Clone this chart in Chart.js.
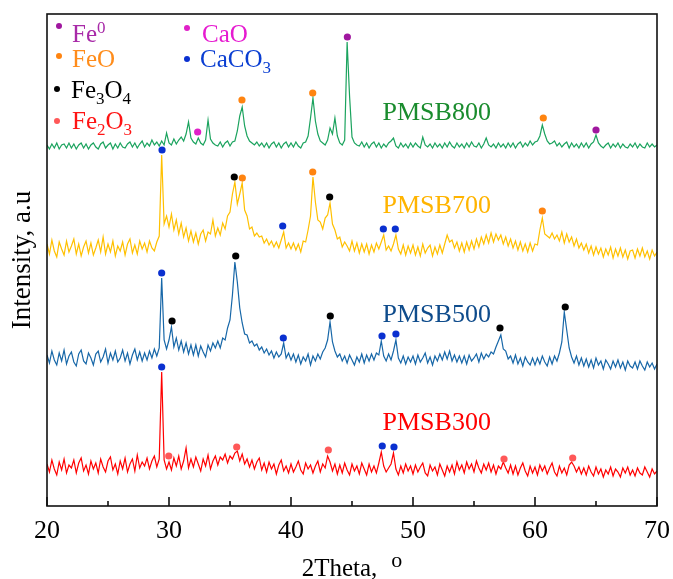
<!DOCTYPE html>
<html>
<head>
<meta charset="utf-8">
<script src="https://cdn.jsdelivr.net/npm/chart.js@4.4.1/dist/chart.umd.min.js"></script>
<style>
  html, body { margin: 0; padding: 0; background: #fff; }
  canvas { display: block; }
</style>
</head>
<body>
<canvas id="xrd" width="673" height="579"></canvas>
<script>
// 2θ grid: 20.0 .. 70.0 every 0.2°
const thetaStart = 20;
const thetaStep = 0.2;
const xTicks = [20, 30, 40, 50, 60, 70];
const xMinorTicks = [25, 35, 45, 55, 65];

const samples = ["PMSB300", "PMSB500", "PMSB700", "PMSB800"];
const offsets = [28, 136, 246, 350];   // vertical stacking of the patterns

// intensities (a.u.), one value per grid step
const pmsb300 = [
  14, 6, 18, 9, 3, 16, 8, 19, 5, 13,
  10, 18, 5, 15, 20, 7, 13, 4, 17, 9,
  15, 5, 19, 11, 6, 17, 21, 8, 14, 4,
  17, 9, 20, 6, 14, 19, 7, 23, 10, 16,
  12, 20, 9, 17, 22, 11, 19, 106, 18, 9,
  16, 8, 20, 12, 22, 9, 17, 30, 10, 19,
  11, 21, 14, 7, 19, 12, 23, 9, 17, 22,
  13, 21, 18, 24, 15, 22, 19, 25, 27, 17,
  24, 14, 19, 11, 18, 9, 16, 20, 8, 15,
  6, 16, 9, 14, 4, 13, 18, 7, 12, 5,
  14, 6, 11, 17, 8, 4, 15, 9, 13, 5,
  12, 17, 6, 14, 10, 22, 16, 7, 14, 4,
  13, 5, 15, 8, 3, 14, 7, 12, 4, 15,
  9, 3, 14, 6, 12, 5, 15, 26, 12, 6,
  10, 14, 25, 9, 3, 12, 5, 14, 7, 12,
  4, 13, 6, 11, 15, 5, 2, 13, 7, 11,
  3, 14, 8, 2, 12, 6, 13, 4, 16, 8,
  13, 5, 16, 9, 14, 6, 17, 10, 5, 14,
  8, 15, 6, 13, 4, 12, 9, 16, 10, 5,
  13, 4, 12, 3, 10, 15, 7, 2, 12, 5,
  11, 3, 13, 7, 12, 4, 10, 15, 6, 2,
  12, 5, 10, 3, 13, 16, 12, 6, 11, 4,
  10, 3, 12, 6, 2, 11, 4, 9, 1, 8,
  4, 11, 2, 9, 6, 1, 10, 5, 11, 3,
  8, 2, 10, 5, 3, 11, 6, 1, 9, 4,
  7
];
const pmsb500 = [
  15, 7, 19, 10, 5, 17, 9, 20, 6, 14,
  18, 8, 4, 16, 20, 9, 6, 17, 12, 5,
  16, 19, 8, 13, 21, 7, 17, 10, 19, 8,
  12, 20, 9, 17, 6, 15, 21, 10, 18, 9,
  17, 10, 19, 12, 21, 14, 22, 92, 30, 21,
  30, 43, 23, 32, 20, 29, 18, 27, 16, 25,
  15, 25, 14, 24, 18, 13, 25, 19, 27, 22,
  29, 22, 32, 30, 42, 50, 75, 108, 88, 62,
  47, 36, 35, 27, 29, 24, 26, 20, 23, 17,
  21, 15, 19, 12, 18, 13, 16, 27, 12, 17,
  10, 16, 8, 15, 6, 13, 9, 16, 5, 14,
  9, 16, 11, 18, 22, 30, 48, 28, 19, 13,
  16, 9, 14, 7, 15, 10, 5, 13, 8, 16,
  7, 15, 9, 16, 10, 17, 15, 29, 14, 9,
  16, 10, 19, 30, 12, 7, 14, 6, 13, 8,
  14, 6, 15, 8, 12, 17, 7, 13, 5, 14,
  9, 16, 10, 18, 11, 19, 9, 15, 8, 14,
  7, 14, 6, 15, 9, 12, 16, 8, 17, 11,
  16, 13, 18, 16, 23, 29, 35, 21, 19, 11,
  14, 7, 15, 6, 12, 4, 13, 8, 5, 12,
  5, 12, 6, 14, 8, 4, 13, 6, 14, 9,
  17, 28, 58, 40, 22, 13, 7, 14, 5, 12,
  4, 11, 3, 10, 2, 12, 5, 9, 1, 10,
  6, 1, 9, 3, 10, 2, 8, 0, 9, 4,
  2, 8, 1, 9, 4, 0, 8, 3, 7, 1,
  6
];
const pmsb700 = [
  16, 6, 20, 9, 3, 18, 11, 5, 19, 8,
  14, 21, 6, 16, 4, 13, 19, 7, 17, 5,
  12, 20, 8, 23, 6, 16, 8, 19, 4, 14,
  9, 18, 5, 16, 21, 7, 15, 6, 19, 11,
  17, 8, 19, 12, 9, 18, 24, 105, 36, 44,
  33, 46, 30, 40, 26, 37, 23, 32, 19, 29,
  18, 27, 16, 26, 30, 19, 28, 26, 40, 24,
  32, 25, 37, 31, 44, 48, 66, 78, 56, 66,
  77, 50, 44, 31, 33, 24, 27, 23, 24, 17,
  21, 15, 19, 13, 18, 12, 20, 28, 12, 17,
  11, 17, 10, 16, 8, 19, 18, 30, 44, 83,
  58, 40, 38, 31, 42, 45, 57, 36, 30, 21,
  23, 13, 18, 14, 9, 19, 9, 17, 7, 16,
  8, 16, 6, 15, 8, 17, 11, 18, 25, 10,
  14, 9, 16, 25, 11, 6, 15, 5, 14, 7,
  15, 5, 13, 4, 16, 7, 12, 15, 4, 13,
  6, 15, 7, 16, 25, 18, 20, 12, 18, 9,
  17, 8, 18, 10, 19, 11, 21, 13, 23, 16,
  25, 17, 27, 18, 26, 20, 25, 16, 23, 14,
  21, 12, 19, 10, 18, 9, 16, 8, 17, 9,
  16, 15, 30, 42, 26, 24, 22, 27, 21, 25,
  19, 28, 17, 26, 18, 23, 14, 21, 12, 17,
  10, 16, 7, 14, 5, 13, 6, 12, 3, 11,
  5, 13, 2, 11, 4, 12, 3, 10, 1, 9,
  10, 2, 11, 4, 12, 3, 9, 1, 10, 4,
  8
];
const pmsb800 = [
  11, 7, 12, 8, 13, 7, 11, 12, 8, 13,
  8, 12, 7, 11, 13, 8, 12, 7, 11, 13,
  9, 7, 12, 14, 8, 11, 13, 7, 12, 8,
  13, 9, 8, 12, 14, 9, 13, 8, 12, 15,
  9, 13, 10, 16, 11, 14, 10, 15, 11, 23,
  13, 11, 17, 12, 16, 19, 15, 22, 34, 18,
  14, 12, 18, 13, 11, 16, 36, 17, 13, 11,
  10, 14, 9, 13, 15, 10, 14, 15, 25, 40,
  49, 30, 20, 15, 13, 11, 14, 10, 13, 9,
  13, 8, 12, 14, 9, 13, 8, 12, 14, 9,
  13, 9, 14, 10, 8, 13, 14, 20, 38, 58,
  35, 22, 15, 13, 11, 16, 28, 22, 38, 20,
  13, 11, 16, 114, 60, 19, 13, 11, 10, 14,
  9, 13, 8, 12, 14, 9, 13, 8, 12, 9,
  13, 15, 18, 10, 8, 13, 9, 12, 8, 13,
  9, 13, 10, 8, 19, 11, 9, 12, 8, 13,
  9, 12, 8, 13, 9, 14, 10, 8, 13, 9,
  12, 8, 13, 9, 14, 10, 9, 13, 8, 12,
  18, 11, 9, 12, 8, 13, 9, 12, 8, 13,
  9, 13, 8, 12, 14, 9, 13, 10, 15, 11,
  14, 15, 20, 31, 22, 15, 12, 13, 15, 10,
  13, 9, 12, 14, 8, 13, 9, 12, 8, 13,
  9, 13, 8, 12, 14, 21, 13, 10, 8, 11,
  13, 8, 12, 9, 13, 8, 12, 9, 8, 12,
  9, 13, 8, 12, 9, 8, 13, 9, 12, 9,
  11
];

// phase markers: [sample index, 2θ, height above that sample's baseline]
const markFe0 = [[3, 44.62, 119], [3, 65.0, 26]];
const markCaO = [[3, 32.35, 24]];
const markFeO = [[2, 36.01, 82], [2, 41.78, 88], [2, 60.6, 49], [3, 35.98, 56], [3, 41.78, 63], [3, 60.68, 38]];
const markCaCO3 = [[0, 29.4, 111], [0, 47.48, 32], [0, 48.44, 31], [1, 29.4, 97], [1, 39.37, 32], [1, 47.46, 34], [1, 48.6, 36],
                   [2, 29.43, 110], [2, 39.32, 34], [2, 47.57, 31], [2, 48.55, 31]];
const markFe3O4 = [[1, 30.25, 49], [1, 35.47, 114], [1, 43.22, 54], [1, 57.13, 42], [1, 62.48, 63], [2, 35.35, 83], [2, 43.17, 63]];
const markFe2O3 = [[0, 29.98, 22], [0, 35.55, 31], [0, 43.06, 28], [0, 57.46, 19], [0, 63.09, 20]];

const lineColors = ["#ff0000", "#1767a8", "#ffc000", "#1ba35e"];
const labelColors = ["#ff0000", "#0f4c8c", "#ffb400", "#1a8c2e"];
const labelTheta = 47.5;
const labelLift = [48, 48, 47, 36];

const phases = [
  { marks: markFe0, color: "#a0179f" },
  { marks: markCaO, color: "#e020c8" },
  { marks: markFeO, color: "#ff8410" },
  { marks: markCaCO3, color: "#0a30d0" },
  { marks: markFe3O4, color: "#000000" },
  { marks: markFe2O3, color: "#ff5858" }
];

const series = [pmsb300, pmsb500, pmsb700, pmsb800];
const datasets = [];
series.forEach((ys, k) => {
  datasets.push({
    type: "line",
    label: samples[k],
    data: ys.map((v, i) => ({ x: thetaStart + i * thetaStep, y: v + offsets[k] })),
    borderColor: lineColors[k],
    borderWidth: 1.2,
    pointRadius: 0,
    tension: 0,
    order: 1
  });
});
phases.forEach(p => {
  datasets.push({
    type: "scatter",
    data: p.marks.map(([s, x, h]) => ({ x, y: h + offsets[s] })),
    backgroundColor: p.color,
    borderWidth: 0,
    pointRadius: 3.6,
    order: 0
  });
});

const SERIF = '"Liberation Serif", "Times New Roman", serif';

// text with sub/superscript pieces
function drawRich(ctx, parts, x, y, size, color) {
  ctx.fillStyle = color;
  ctx.textAlign = "left";
  ctx.textBaseline = "alphabetic";
  for (const [txt, mode] of parts) {
    const sz = mode ? Math.round(size * 0.68) : size;
    ctx.font = sz + "px " + SERIF;
    const dy = mode === "sub" ? 6 : mode === "sup" ? -9 : 0;
    ctx.fillText(txt, x, y + dy);
    x += ctx.measureText(txt).width;
  }
}

const decor = {
  id: "decor",
  afterDraw(chart) {
    const { ctx, chartArea: a, scales: { x, y } } = chart;
    ctx.save();

    // frame
    ctx.strokeStyle = "#111";
    ctx.lineWidth = 1.6;
    ctx.strokeRect(a.left, a.top, a.right - a.left, a.bottom - a.top);

    // inward ticks
    ctx.beginPath();
    xTicks.forEach(v => { const px = x.getPixelForValue(v); ctx.moveTo(px, a.bottom); ctx.lineTo(px, a.bottom - 9); });
    xMinorTicks.forEach(v => { const px = x.getPixelForValue(v); ctx.moveTo(px, a.bottom); ctx.lineTo(px, a.bottom - 5); });
    ctx.stroke();

    // tick labels
    ctx.fillStyle = "#000";
    ctx.font = "26px " + SERIF;
    ctx.textAlign = "center";
    ctx.textBaseline = "alphabetic";
    xTicks.forEach(v => ctx.fillText(String(v), x.getPixelForValue(v), 538));

    // x title: 2Theta, °
    ctx.font = "25px " + SERIF;
    const main = "2Theta,";
    const wMain = ctx.measureText(main).width;
    ctx.font = "22px " + SERIF;
    const wO = ctx.measureText("o").width;
    const cx = (a.left + a.right) / 2;
    const start = cx - (wMain + 14 + wO) / 2;
    ctx.textAlign = "left";
    ctx.font = "25px " + SERIF;
    ctx.fillText(main, start, 576);
    ctx.font = "22px " + SERIF;
    ctx.fillText("o", start + wMain + 14, 567);

    // y title
    ctx.save();
    ctx.translate(30, (a.top + a.bottom) / 2);
    ctx.rotate(-Math.PI / 2);
    ctx.textAlign = "center";
    ctx.font = "27px " + SERIF;
    ctx.fillText("Intensity, a.u", 0, 0);
    ctx.restore();

    // sample labels
    ctx.font = "26px " + SERIF;
    ctx.textAlign = "left";
    samples.forEach((name, k) => {
      ctx.fillStyle = labelColors[k];
      ctx.fillText(name, x.getPixelForValue(labelTheta), y.getPixelForValue(offsets[k] + labelLift[k]));
    });

    // phase key
    const key = [
      { dot: [59, 26], color: "#a0179f", text: "#a82aa8", at: [72, 42], parts: [["Fe", ""], ["0", "sup"]] },
      { dot: [187, 28], color: "#e020c8", text: "#e61ad0", at: [202, 42], parts: [["CaO", ""]] },
      { dot: [59, 56], color: "#ff8410", text: "#ff8c1a", at: [72, 67], parts: [["FeO", ""]] },
      { dot: [187, 59], color: "#0a30d0", text: "#0a3ed2", at: [200, 67], parts: [["CaCO", ""], ["3", "sub"]] },
      { dot: [57, 89], color: "#000000", text: "#000000", at: [71, 98], parts: [["Fe", ""], ["3", "sub"], ["O", ""], ["4", "sub"]] },
      { dot: [57, 121], color: "#ff5858", text: "#ff1414", at: [72, 129], parts: [["Fe", ""], ["2", "sub"], ["O", ""], ["3", "sub"]] }
    ];
    key.forEach(k => {
      ctx.fillStyle = k.color;
      ctx.beginPath();
      ctx.arc(k.dot[0], k.dot[1], 3, 0, Math.PI * 2);
      ctx.fill();
      drawRich(ctx, k.parts, k.at[0], k.at[1], 25, k.text);
    });

    ctx.restore();
  }
};

new Chart(document.getElementById("xrd"), {
  type: "line",
  data: { datasets },
  options: {
    responsive: false,
    animation: false,
    devicePixelRatio: 1,
    layout: { padding: { left: 47, right: 16, top: 14, bottom: 73 } },
    plugins: { legend: { display: false }, tooltip: { enabled: false } },
    scales: {
      x: { type: "linear", min: 20, max: 70, display: false },
      y: { type: "linear", min: 0, max: 492, display: false }
    }
  },
  plugins: [decor]
});
</script>
</body>
</html>
